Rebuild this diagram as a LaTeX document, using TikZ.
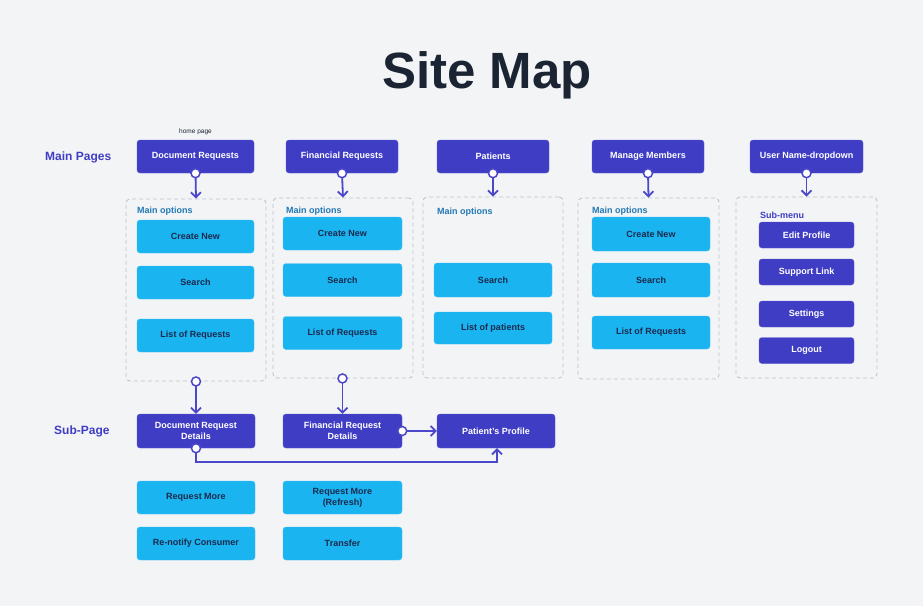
\documentclass[tikz,border=0pt]{standalone}
\usepackage{fontspec}
\setmainfont{Liberation Sans}
\usetikzlibrary{arrows.meta}
\definecolor{bgcol}{HTML}{F3F4F6}
\definecolor{indigo}{HTML}{3F3DC4}
\definecolor{cyanbox}{HTML}{1AB4F0}
\definecolor{navytext}{HTML}{1B2A4E}
\definecolor{titlecol}{HTML}{1B2433}
\definecolor{optcol}{HTML}{2378B5}
\definecolor{dashcol}{HTML}{BFC3CA}
\definecolor{linecol}{HTML}{4B47C8}
\tikzset{
  pagebox/.style={rectangle, rounded corners=3pt, fill=indigo, draw=indigo!85!white,
    text=white, font=\bfseries\fontsize{9}{11}\selectfont, align=center,
    inner sep=0pt, minimum width=#1, minimum height=33pt},
  pagebox/.default=112pt,
  optbox/.style={rectangle, rounded corners=3pt, fill=cyanbox, draw=cyanbox!80!white,
    text=navytext, font=\bfseries\fontsize{9}{11}\selectfont, align=center,
    inner sep=0pt, minimum width=#1, minimum height=33pt},
  optbox/.default=118pt,
  menubox/.style={pagebox=95pt, minimum height=26pt},
  group/.style={rectangle, rounded corners=4pt, draw=dashcol,
    dash pattern=on 4pt off 3pt, line width=0.9pt, inner sep=0pt},
  grouplabel/.style={anchor=west, inner sep=0pt, text=optcol,
    font=\bfseries\fontsize{9}{11}\selectfont},
  rowlabel/.style={anchor=west, inner sep=0pt, text=indigo,
    font=\bfseries\fontsize{12}{14}\selectfont},
  conn/.style={draw=linecol, line width=1.8pt,
    -{Straight Barb[length=5pt,width=10pt,line width=1.8pt]}},
  dot/.style={circle, draw=linecol, fill=white, line width=1.5pt,
    inner sep=0pt, minimum size=9pt}
}
\begin{document}
\begin{tikzpicture}[x=1pt,y=-1pt]
% canvas
\fill[bgcol] (0,0) rectangle (923,606);
\useasboundingbox (0,0) rectangle (923,606);

% title
\node[text=titlecol, font=\bfseries\fontsize{51}{60}\selectfont, inner sep=0pt]
  (title) at (487,75) {Site Map};

% row labels
\node[rowlabel] (lblmain) at (45,157) {Main Pages};
\node[rowlabel] (lblsub) at (54,431) {Sub-Page};
\node[inner sep=0pt, text=titlecol, font=\fontsize{6.5}{8}\selectfont]
  (home) at (195.5,132) {home page};

% main pages
\node[pagebox=117pt] (docreq) at (195.5,156.5) {Document Requests};
\node[pagebox] (finreq) at (342,156.5) {Financial Requests};
\node[pagebox] (patients) at (493,156.5) {Patients};
\node[pagebox] (members) at (648,156.5) {Manage Members};
\node[pagebox=113pt] (user) at (806.5,156.5) {User Name-dropdown};

% option groups
\node[group, minimum width=140pt, minimum height=182pt] (g1) at (196,290) {};
\node[group, minimum width=140pt, minimum height=180pt] (g2) at (343,288) {};
\node[group, minimum width=140pt, minimum height=181pt] (g3) at (493,287.5) {};
\node[group, minimum width=141pt, minimum height=181pt] (g4) at (648.5,288.5) {};
\node[group, minimum width=141pt, minimum height=181pt] (g5) at (806.5,287.5) {};

\node[grouplabel] (l1) at (137,211) {Main options};
\node[grouplabel] (l2) at (286,211) {Main options};
\node[grouplabel] (l3) at (437,212) {Main options};
\node[grouplabel] (l4) at (592,211) {Main options};
\node[grouplabel, text=indigo] (l5) at (760,215) {Sub-menu};

% Document Requests options
\node[optbox=117pt] (d1) at (195.5,236.5) {Create New};
\node[optbox=117pt] (d2) at (195.5,282.5) {Search};
\node[optbox=117pt] (d3) at (195.5,335.5) {List of Requests};

% Financial Requests options
\node[optbox=119pt] (f1) at (342.5,233.5) {Create New};
\node[optbox=119pt] (f2) at (342.5,280) {Search};
\node[optbox=119pt] (f3) at (342.5,333) {List of Requests};

% Patients options
\node[optbox, minimum height=34pt] (p1) at (493,280) {Search};
\node[optbox, minimum height=32pt] (p2) at (493,328) {List of patients};

% Manage Members options
\node[optbox, minimum height=34pt] (m1) at (651,234) {Create New};
\node[optbox, minimum height=34pt] (m2) at (651,280) {Search};
\node[optbox] (m3) at (651,332.5) {List of Requests};

% user sub-menu
\node[menubox] (u1) at (806.5,235) {Edit Profile};
\node[menubox] (u2) at (806.5,272) {Support Link};
\node[menubox] (u3) at (806.5,314) {Settings};
\node[menubox] (u4) at (806.5,350.5) {Logout};

% sub-pages
\node[pagebox=118pt, minimum height=34pt] (docdet) at (196,431) {Document Request\\Details};
\node[pagebox=119pt, minimum height=34pt] (findet) at (342.5,431) {Financial Request\\Details};
\node[pagebox=118pt, minimum height=34pt] (profile) at (496,431) {Patient's Profile};

% sub-page actions
\node[optbox] (s1) at (196,497.5) {Request More};
\node[optbox=119pt] (s2) at (342.5,497.5) {Request More\\(Refresh)};
\node[optbox] (s3) at (196,543.5) {Re-notify Consumer};
\node[optbox=119pt] (s4) at (342.5,543.5) {Transfer};

% connectors
\draw[conn] (docreq.south) -- (g1.north);
\draw[conn] (finreq.south) -- (g2.north);
\draw[conn] (patients.south) -- (g3.north);
\draw[conn] (members.south) -- (g4.north);
\draw[conn] (user.south) -- (g5.north);
\draw[conn] (g1.south) -- (docdet.north);
\draw[conn] (g2.south -| findet.north) -- (findet.north);
\draw[conn] (findet.east) -- (profile.west);
\draw[conn] (docdet.south) -- ++(0,14) -| ([xshift=1pt]profile.south);

\node[dot] at (docreq.south) {};
\node[dot] at (finreq.south) {};
\node[dot] at (patients.south) {};
\node[dot] at (members.south) {};
\node[dot] at (user.south) {};
\node[dot] at (g1.south) {};
\node[dot] at (g2.south -| findet.north) {};
\node[dot] at (findet.east) {};
\node[dot] at (docdet.south) {};
\end{tikzpicture}
\end{document}
